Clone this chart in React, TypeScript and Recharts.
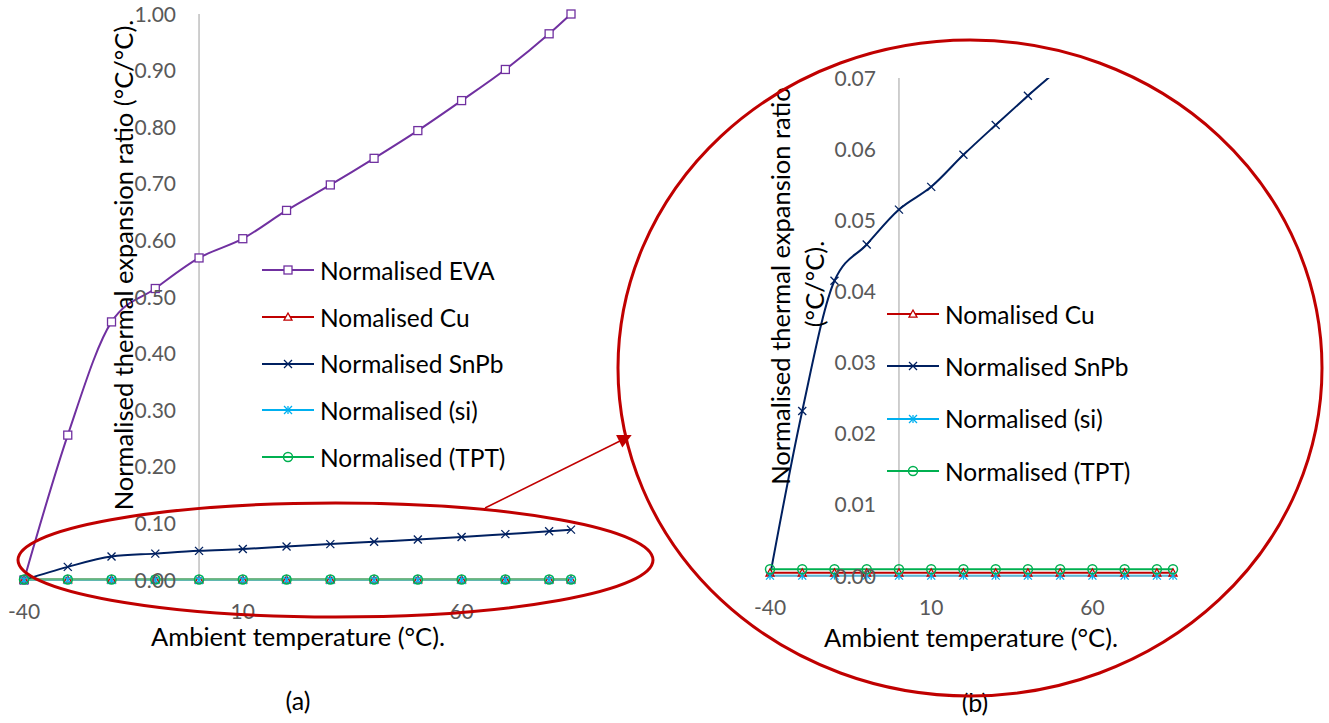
import React from 'react'
import { LineChart, Line, XAxis, YAxis, ReferenceLine, Legend } from 'recharts'

const temps = [-40, -30, -20, -10, 0, 10, 20, 30, 40, 50, 60, 70, 80, 85]
const eva = [0, 0.256, 0.456, 0.515, 0.569, 0.603, 0.653, 0.698, 0.745, 0.794, 0.847, 0.902, 0.965, 1.0]
const cu = [0.00045, 0.00045, 0.00045, 0.00045, 0.00045, 0.00045, 0.00045, 0.00045, 0.00045, 0.00045, 0.00045, 0.00045, 0.00045, 0.00045]
const snpb = [0, 0.0232, 0.0415, 0.0466, 0.0515, 0.0547, 0.0592, 0.0634, 0.0675, 0.0715, 0.076, 0.081, 0.086, 0.089]
const si = [0.00005, 0.00005, 0.00005, 0.00005, 0.00005, 0.00005, 0.00005, 0.00005, 0.00005, 0.00005, 0.00005, 0.00005, 0.00005, 0.00005]
const tpt = [0.00095, 0.00095, 0.00095, 0.00095, 0.00095, 0.00095, 0.00095, 0.00095, 0.00095, 0.00095, 0.00095, 0.00095, 0.00095, 0.00095]

const xTicks = [-40, 10, 60]
const yTicksA = [0, 0.1, 0.2, 0.3, 0.4, 0.5, 0.6, 0.7, 0.8, 0.9, 1.0]
const yTicksB = [0, 0.01, 0.02, 0.03, 0.04, 0.05, 0.06, 0.07]

const data = temps.map((t, i) => ({ t, eva: eva[i], cu: cu[i], snpb: snpb[i], si: si[i], tpt: tpt[i] }))

type Marker = 'square' | 'triangle' | 'x' | 'star' | 'circle'
const series: { key: string; name: string; color: string; marker: Marker }[] = [
  { key: 'eva', name: 'Normalised EVA', color: '#7030A0', marker: 'square' },
  { key: 'cu', name: 'Nomalised Cu', color: '#C00000', marker: 'triangle' },
  { key: 'snpb', name: 'Normalised SnPb', color: '#002060', marker: 'x' },
  { key: 'si', name: 'Normalised (si)', color: '#00B0F0', marker: 'star' },
  { key: 'tpt', name: 'Normalised (TPT)', color: '#00B050', marker: 'circle' },
]

const FONT = 'Lato, "Open Sans", sans-serif'
const GRID = '#BFBFBF'
const TICK = '#595959'

function MarkerShape({ cx, cy, type, color }: { cx: number; cy: number; type: Marker; color: string }) {
  const s = 4
  switch (type) {
    case 'square':
      return <rect x={cx - s} y={cy - s} width={2 * s} height={2 * s} fill="#fff" stroke={color} strokeWidth={1.3} />
    case 'triangle':
      return <polygon points={`${cx},${cy - s} ${cx + s},${cy + s * 0.8} ${cx - s},${cy + s * 0.8}`} fill="#fff" stroke={color} strokeWidth={1.3} />
    case 'x':
      return (
        <g stroke={color} strokeWidth={1.3}>
          <line x1={cx - s} y1={cy - s} x2={cx + s} y2={cy + s} />
          <line x1={cx - s} y1={cy + s} x2={cx + s} y2={cy - s} />
        </g>
      )
    case 'star':
      return (
        <g stroke={color} strokeWidth={1.3}>
          <line x1={cx - s} y1={cy - s} x2={cx + s} y2={cy + s} />
          <line x1={cx - s} y1={cy + s} x2={cx + s} y2={cy - s} />
          <line x1={cx} y1={cy - s} x2={cx} y2={cy + s} />
        </g>
      )
    default:
      return <circle cx={cx} cy={cy} r={4.5} fill="none" stroke={color} strokeWidth={1.5} />
  }
}

function makeLegend(rowH: number) {
  return (props: any) => {
    const items = [...(props.payload || [])].sort(
      (a: any, b: any) => series.findIndex(s => s.name === a.value) - series.findIndex(s => s.name === b.value)
    )
    return (
      <div style={{ fontFamily: FONT, fontSize: 24.5, color: '#000' }}>
        {items.map((it: any) => {
          const s = series.find(d => d.name === it.value)!
          return (
            <div key={it.value} style={{ height: rowH, display: 'flex', alignItems: 'center', whiteSpace: 'nowrap' }}>
              <svg width={52} height={14} style={{ overflow: 'visible' }}>
                <line x1={0} y1={7} x2={52} y2={7} stroke={s.color} strokeWidth={2} />
                <MarkerShape cx={26} cy={7} type={s.marker} color={s.color} />
              </svg>
              <span style={{ marginLeft: 6 }}>{it.value}</span>
            </div>
          )
        })}
      </div>
    )
  }
}

// clipKeys: series drawn on a second, clipped y axis (same domain) so they can run off the top
function Panel({ width, height, margin, yDomain, yTicks, keys, clipKeys, legendPos, rowH }: any) {
  const xMin = -40
  const xMax = 85
  const plotW = width - margin.left - margin.right
  const zeroX = margin.left + ((0 - xMin) / (xMax - xMin)) * plotW
  const YTick = ({ y, payload }: any) => (
    <text x={zeroX - 23} y={y} dy="0.36em" textAnchor="end" fill={TICK} fontSize={21} fontFamily={FONT}>
      {Number(payload.value).toFixed(2)}
    </text>
  )
  const XTick = ({ x, y, payload }: any) => (
    <text x={x} y={y + 39} textAnchor="middle" fill={TICK} fontSize={21} fontFamily={FONT}>
      {payload.value}
    </text>
  )
  return (
    <LineChart width={width} height={height} data={data} margin={{ ...margin, left: margin.left - 1 }}>
      <XAxis dataKey="t" type="number" domain={[xMin, xMax]} ticks={xTicks} interval={0} height={30}
        axisLine={{ stroke: GRID }} tickLine={false} tickSize={0} tickMargin={0} tick={XTick} />
      <YAxis yAxisId="main" type="number" domain={yDomain} ticks={yTicks} interval={0} width={1}
        axisLine={false} tickLine={false} tick={YTick} />
      <YAxis yAxisId="clip" type="number" domain={yDomain} hide allowDataOverflow />
      <ReferenceLine yAxisId="main" x={0} stroke={GRID} strokeWidth={1.5} />
      {series.filter(s => keys.includes(s.key)).map(s => (
        <Line key={s.key} yAxisId={clipKeys.includes(s.key) ? 'clip' : 'main'} dataKey={s.key} name={s.name}
          stroke={s.color} strokeWidth={2} type="monotone" isAnimationActive={false} activeDot={false}
          dot={(p: any) => <MarkerShape key={`${s.key}-${p.index}`} cx={p.cx} cy={p.cy} type={s.marker} color={s.color} />} />
      ))}
      <Legend layout="vertical" align="center" verticalAlign="middle" content={makeLegend(rowH)}
        wrapperStyle={{ left: legendPos.left, top: legendPos.top, width: 'auto' }} />
    </LineChart>
  )
}

export default function App() {
  return (
    <div style={{ position: 'absolute', left: 0, top: 0, width: 1329, height: 723, background: '#fff', fontFamily: FONT }}>
      <div style={{ position: 'absolute', left: 0, top: 0 }}>
        <Panel width={600} height={723} margin={{ top: 14, right: 29, left: 24, bottom: 113 }}
          yDomain={[0, 1]} yTicks={yTicksA} keys={['eva', 'cu', 'snpb', 'si', 'tpt']} clipKeys={[]}
          legendPos={{ left: 262, top: 247 }} rowH={46.7} />
      </div>
      <div style={{ position: 'absolute', left: 620, top: 0 }}>
        <Panel width={600} height={723} margin={{ top: 78, right: 47, left: 150, bottom: 117 }}
          yDomain={[0, 0.07]} yTicks={yTicksB} keys={['cu', 'snpb', 'si', 'tpt']} clipKeys={['snpb']}
          legendPos={{ left: 267, top: 288 }} rowH={52.3} />
      </div>
      <svg width={1329} height={723} style={{ position: 'absolute', left: 0, top: 0, pointerEvents: 'none' }} fontFamily={FONT}>
        <text transform="translate(133,265) rotate(-90)" textAnchor="middle" fontSize={25.5} fill="#000">
          Normalised thermal expansion ratio (°C/°C).
        </text>
        <text x={298} y={646} textAnchor="middle" fontSize={25.5} fill="#000">Ambient temperature (°C).</text>
        <text x={298} y={710} textAnchor="middle" fontSize={25} fill="#000">(a)</text>
        <text transform="translate(790,286) rotate(-90)" textAnchor="middle" fontSize={25.5} fill="#000">
          Normalised thermal expansion ratio
        </text>
        <text transform="translate(824,284) rotate(-90)" textAnchor="middle" fontSize={25.5} fill="#000">(°C/°C).</text>
        <text x={971} y={647} textAnchor="middle" fontSize={25.5} fill="#000">Ambient temperature (°C).</text>
        <text x={975} y={712} textAnchor="middle" fontSize={25} fill="#000">(b)</text>
        <ellipse cx={335.5} cy={560} rx={317.5} ry={57} fill="none" stroke="#C00000" strokeWidth={3} />
        <line x1={485} y1={508} x2={620} y2={441} stroke="#C00000" strokeWidth={1.5} />
        <polygon points="631.7,435 622.3,447.5 616.1,434.9" fill="#C00000" />
        <ellipse cx={970} cy={368} rx={352} ry={328} fill="none" stroke="#C00000" strokeWidth={3} />
      </svg>
    </div>
  )
}
